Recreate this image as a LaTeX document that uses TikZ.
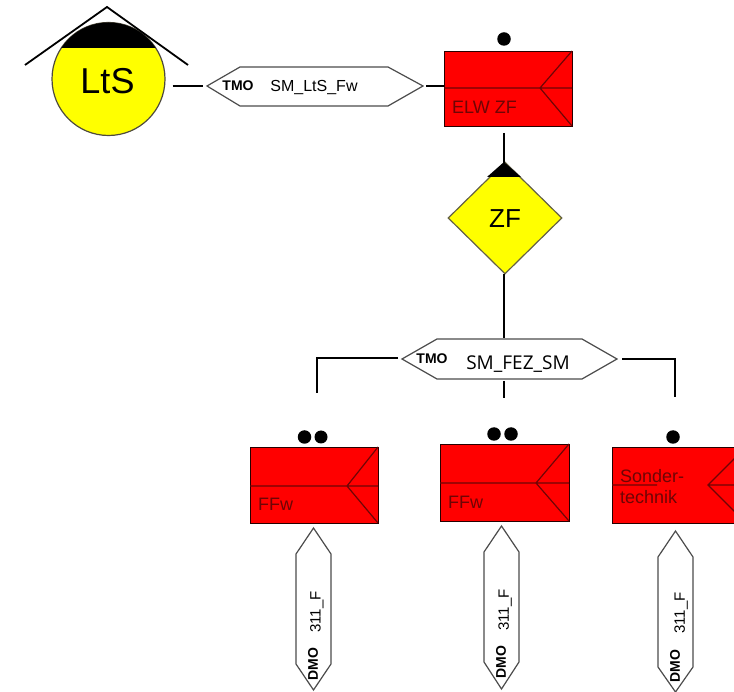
\documentclass[tikz,border=0pt]{standalone}
\usepackage{fontspec}
\setmainfont{Liberation Sans}
\newfontfamily\labelfont{Open Sans}
\usetikzlibrary{shapes.geometric,calc}
\definecolor{fred}{RGB}{255,0,0}
\definecolor{fyellow}{RGB}{255,255,0}
\definecolor{darkred}{RGB}{110,5,5}
\tikzset{
  x=1pt,y=-1pt,
  conn/.style={line width=2.4pt,black},
  redbox/.style={draw=black!85!red,line width=1.3pt,fill=fred,inner sep=0pt},
  redline/.style={draw=darkred,line width=1.2pt},
  redtext/.style={text=darkred,font=\fontsize{18}{21}\selectfont,inner sep=0pt,align=left},
  hexline/.style={draw=black!70,line width=1.2pt,fill=white,line join=miter},
  dotmark/.style={circle,fill=black,inner sep=0pt,minimum size=13.5pt},
  tag/.style={font=\bfseries\fontsize{14}{14}\selectfont,inner sep=0pt},
  hexlabel/.style={inner sep=0pt},
}
\newcommand\RedBox[7]{% name, x1, y1, x2, y2, ymid, xtip
  \node[redbox,anchor=north west,minimum width=#4-#2,minimum height=#5-#3] (#1) at (#2,#3) {};
  \draw[redline] (#2,#6) -- (#4,#6) (#4,#3) -- (#7,#6) -- (#4,#5);
}
\newcommand\VHex[5]{% x-left, x-right, ytop, yshoulder-top, yshoulder-bottom ; bottom in \vbot
  \draw[hexline] ({(#1+#2)/2},#3) -- (#2,#4) -- (#2,#5) -- ({(#1+#2)/2},\vbot) -- (#1,#5) -- (#1,#4) -- cycle;
}
\begin{document}
\begin{tikzpicture}
\useasboundingbox (0,0) rectangle (734,692);
% LtS
\node[circle,draw=black!80!yellow,line width=1.2pt,fill=fyellow,minimum size=113pt,inner sep=0pt] (lts) at (108.5,79) {};
\begin{scope}
  \clip (0,0) rectangle (734,48);
  \fill[black] (108.5,79) circle[radius=56.5];
\end{scope}
\node[inner sep=0pt,font=\fontsize{36}{38}\selectfont] (ltstext) at (107.5,81) {LtS};
\coordinate (roofL) at (25,65);
\coordinate (roofA) at (107,7);
\coordinate (roofR) at (188,65);
\draw[line width=1.8pt,black] (roofL) -- (roofA) -- (roofR);
% upper TMO hexagon
\draw[hexline] (207,86) coordinate (h1w) -- (240,67) -- (388,67) -- (423,86) coordinate (h1e) -- (388,106) -- (240,106) -- cycle;
\node[tag] (h1tag) at (238,86) {TMO};
\node[hexlabel,font=\fontsize{16}{18}\selectfont] (h1text) at (314,88) {SM\_LtS\_Fw};
% ELW
\RedBox{elw}{444}{51}{572}{126}{88}{540}
\node[redtext,anchor=west] (elwtext) at (452,107.5) {ELW ZF};
\node[dotmark] (elwdot) at (504,39) {};
% ZF
\node[diamond,aspect=1,draw=black!70!yellow,line width=1.2pt,fill=fyellow,minimum width=114pt,minimum height=112pt,inner sep=0pt] (zf) at (505,218) {};
\fill[black] (504,162) -- (521,177) -- (487,177) -- cycle;
\node[inner sep=0pt,font=\fontsize{26}{28}\selectfont] (zftext) at (505,219) {ZF};
% lower TMO hexagon
\draw[hexline] (402,359) coordinate (h2w) -- (437,339) -- (582,339) -- (617,359) coordinate (h2e) -- (582,379) -- (437,379) -- cycle;
\node[tag] (h2tag) at (432,358.5) {TMO};
\node[hexlabel,font=\labelfont\fontsize{19}{22}\selectfont] (h2text) at (518,364) {SM\_FEZ\_SM};
% red boxes
\RedBox{ffwa}{250}{447}{378}{523}{486}{347}
\node[redtext,anchor=west] (ffwatext) at (258,504) {FFw};
\node[dotmark] (dota1) at (304.5,437) {};
\node[dotmark,minimum size=13pt] (dota2) at (321,437) {};
\RedBox{ffwb}{440}{444}{569}{521}{483}{536}
\node[redtext,anchor=west] (ffwbtext) at (448,502) {FFw};
\node[dotmark] (dotb1) at (494,434) {};
\node[dotmark] (dotb2) at (511,434) {};
% Sondertechnik, running off the right edge
\begin{scope}
\clip (0,0) rectangle (734,692);
\node[redbox,anchor=north west,minimum width=128pt,minimum height=76pt] (sond) at (612,447) {};
\draw[redline] (612,485) -- (657,485) (740,485) -- (708,485) (746,447) -- (708,485) -- (746,523);
\end{scope}
\node[redtext,anchor=north west] (sondtext) at (620,469) {Sonder-\\technik};
\node[dotmark] (sonddot) at (673,437) {};
% vertical DMO hexagons
\def\vbot{690}\VHex{296}{331}{528}{554}{664}
\node[hexlabel,rotate=90,font=\fontsize{15}{17}\selectfont] (v1text) at (317,612) {311\_F};
\node[tag,rotate=90] (v1tag) at (313,664) {DMO};
\def\vbot{689}\VHex{484}{519}{526}{552}{662}
\node[hexlabel,rotate=90,font=\fontsize{15}{17}\selectfont] (v2text) at (505,610) {311\_F};
\node[tag,rotate=90] (v2tag) at (501,662) {DMO};
\def\vbot{692}\VHex{658}{693}{531}{557}{667}
\node[hexlabel,rotate=90,font=\fontsize{15}{17}\selectfont] (v3text) at (681,613) {311\_F};
\node[tag,rotate=90] (v3tag) at (675,666) {DMO};
% connectors
\coordinate (c1a) at (172.5,86);
\coordinate (c1b) at (203,86);
\coordinate (c2a) at (426,86);
\draw[conn] (c1a) -- (c1b);
\draw[conn] (c2a) -- (elw.west |- c2a);
\coordinate (c3a) at (504,133);
\coordinate (c3b) at (504,164);
\draw[conn] (c3a) -- (c3b);
\coordinate (c4a) at (504,274);
\coordinate (c4b) at (504,338);
\draw[conn] (c4a) -- (c4b);
\coordinate (c5a) at (504,381);
\coordinate (c5b) at (504,398);
\draw[conn] (c5a) -- (c5b);
\coordinate (c6a) at (398,358);
\coordinate (c6b) at (317,393);
\draw[conn] (c6a) -| (c6b);
\coordinate (c7a) at (622,359);
\coordinate (c7b) at (675,397);
\draw[conn] (c7a) -| (c7b);
\end{tikzpicture}
\end{document}
